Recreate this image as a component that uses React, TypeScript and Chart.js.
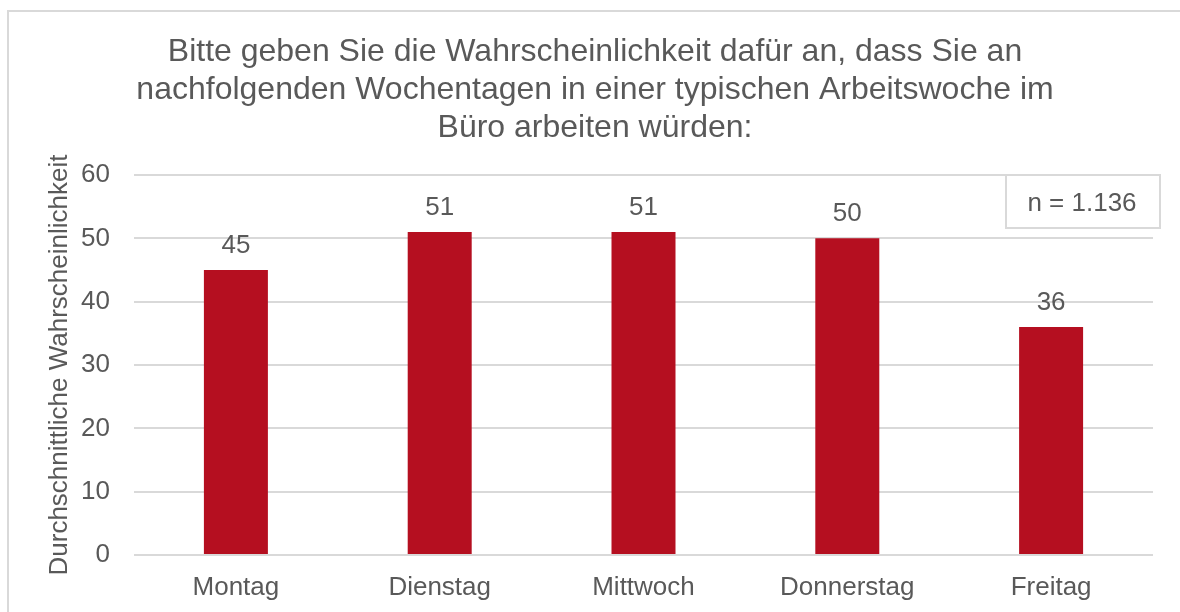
import React, { useEffect, useRef } from "react";
import { Chart, registerables } from "chart.js";

Chart.register(...registerables);

const categories = ["Montag", "Dienstag", "Mittwoch", "Donnerstag", "Freitag"];
const values = [45, 51, 51, 50, 36];
const yTicks = [0, 10, 20, 30, 40, 50, 60];
const titleLines = [
  "Bitte geben Sie die Wahrscheinlichkeit dafür an, dass Sie an",
  "nachfolgenden Wochentagen in einer typischen Arbeitswoche im",
  "Büro arbeiten würden:",
];
const yAxisTitle = "Durchschnittliche Wahrscheinlichkeit";
const noteText = "n = 1.136";

const FONT = "'Liberation Sans', Arial, sans-serif";
const TEXT = "#595959";
const GRID = "#D9D9D9";
const BAR = "#B50F20";

const decorPlugin = {
  id: "decor",
  beforeDraw(chart: any) {
    const ctx = chart.ctx;
    ctx.save();
    ctx.strokeStyle = GRID;
    ctx.lineWidth = 2;
    ctx.beginPath();
    ctx.moveTo(8, 620);
    ctx.lineTo(8, 11);
    ctx.lineTo(1190, 11);
    ctx.stroke();
    // title
    ctx.fillStyle = TEXT;
    ctx.font = `32px ${FONT}`;
    ctx.textAlign = "center";
    ctx.textBaseline = "alphabetic";
    const cx = 595;
    titleLines.forEach((l, i) => ctx.fillText(l, cx, 61 + i * 38));
    ctx.restore();
  },
  afterDraw(chart: any) {
    const ctx = chart.ctx;
    ctx.save();
    // data labels
    const meta = chart.getDatasetMeta(0);
    ctx.fillStyle = TEXT;
    ctx.font = `26px ${FONT}`;
    ctx.textAlign = "center";
    ctx.textBaseline = "alphabetic";
    meta.data.forEach((bar: any, i: number) => {
      ctx.fillText(String(values[i]), bar.x, bar.y - 17);
    });
    // n box
    ctx.strokeStyle = GRID;
    ctx.lineWidth = 2;
    ctx.fillStyle = "#ffffff";
    ctx.fillRect(1006, 175, 154, 53);
    ctx.strokeRect(1006, 175, 154, 53);
    ctx.fillStyle = TEXT;
    ctx.textBaseline = "alphabetic";
    ctx.fillText(noteText, 1082, 211);
    ctx.restore();
  },
};

export default function App() {
  const ref = useRef<HTMLCanvasElement>(null);
  useEffect(() => {
    if (!ref.current) return;
    const chart = new Chart(ref.current, {
      type: "bar",
      data: {
        labels: categories,
        datasets: [
          {
            data: values,
            backgroundColor: BAR,
            barPercentage: 0.314,
            categoryPercentage: 1,
          },
        ],
      },
      options: {
        animation: false,
        responsive: false,
        maintainAspectRatio: false,
        layout: { padding: { left: 44, top: 175, right: 27, bottom: 0 } },
        plugins: {
          legend: { display: false },
          title: { display: false },
          tooltip: { enabled: false },
        },
        scales: {
          x: {
            grid: { display: false },
            border: { display: false },
            afterFit: (s: any) => {
              s.height = 57;
            },
            ticks: {
              color: TEXT,
              font: { family: FONT, size: 26 },
              padding: 9,
              maxRotation: 0,
            },
          },
          y: {
            min: 0,
            max: 60,
            afterBuildTicks: (s: any) => {
              s.ticks = yTicks.map((v) => ({ value: v }));
            },
            afterFit: (s: any) => {
              s.width = 90;
            },
            grid: { color: GRID, lineWidth: 2, drawTicks: false },
            border: { display: false },
            ticks: {
              color: TEXT,
              font: { family: FONT, size: 26 },
              padding: 24,
            },
            title: {
              display: true,
              text: yAxisTitle,
              color: TEXT,
              font: { family: FONT, size: 26 },
              padding: { top: 0, bottom: 0 },
            },
          },
        },
      },
      plugins: [decorPlugin],
    });
    return () => chart.destroy();
  }, []);
  return (
    <div style={{ position: "fixed", left: 0, top: 0, width: 1180, height: 612, background: "#fff" }}>
      <canvas ref={ref} width={1180} height={612} style={{ display: "block" }} />
    </div>
  );
}
